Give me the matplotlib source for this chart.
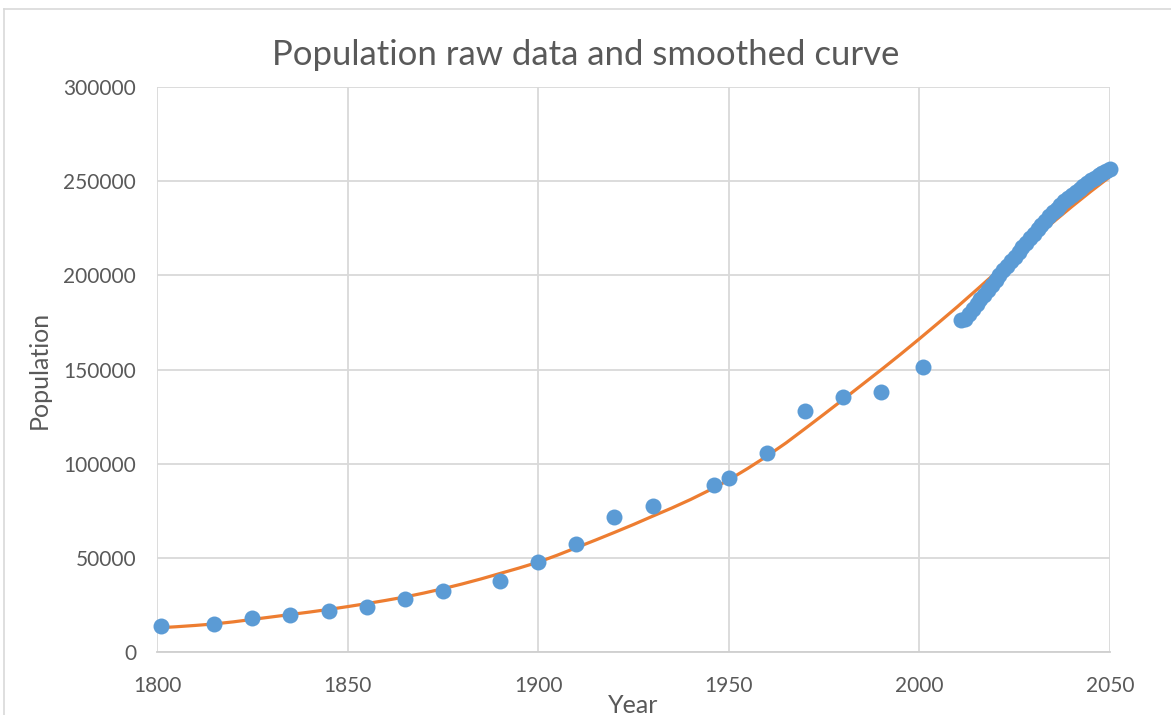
import matplotlib
matplotlib.use("Agg")
import matplotlib.pyplot as plt
from matplotlib.lines import Line2D

plt.rcParams['font.family'] = ['Lato', 'DejaVu Sans']

# raw population data (blue dots)
raw_years = [1801, 1815, 1825, 1835, 1845, 1855, 1865, 1875, 1890, 1900,
             1910, 1920, 1930, 1946, 1950, 1960, 1970, 1980, 1990, 2001]
raw_pop = [14000, 14900, 17800, 19600, 21900, 23900, 28100, 32200, 37700, 47600,
           57400, 71900, 77700, 88700, 92400, 105500, 127800, 135300, 138100, 151500]

# projected yearly values 2011-2050 (dense blue band)
proj_years = list(range(2011, 2051))
proj_pop = [176300, 176700, 179400, 182000, 184600, 187200, 189800, 192400, 195000, 197600,
            200100, 202600, 205100, 207500, 210000, 212400, 214900, 217300, 219800, 222200,
            224600, 226900, 229100, 231300, 233400, 235400, 237400, 239300, 241100, 242800,
            244500, 246100, 247600, 249100, 250500, 251800, 253100, 254300, 255400, 256600]

# smoothed curve (orange), read every 5 years
curve_years = list(range(1800, 2051, 5))
curve_pop = [12800, 13400, 14100, 14900, 16000, 17300, 18600, 19900, 21200, 22600,
             24100, 25700, 27400, 29200, 31300, 33600, 36100, 38800, 41700, 44600,
             47700, 51400, 55400, 59400, 63500, 67700, 72100, 76400, 81000, 86000,
             91400, 97500, 104000, 111000, 118600, 126300, 134100, 142000, 149900, 158000,
             166300, 174800, 183400, 192300, 201300, 210500, 219500, 228100, 236500, 244600,
             252400]

x_ticks = [1800, 1850, 1900, 1950, 2000, 2050]
y_ticks = [0, 50000, 100000, 150000, 200000, 250000, 300000]
y_tick_labels = ['0', '50000', '100000', '150000', '200000', '250000', '300000']

txt = '#595959'
fig = plt.figure(figsize=(11.71, 7.15), dpi=100)
ax = fig.add_axes([157/1171, 1-652/715, (1110-157)/1171, (652-87)/715])

ax.plot(curve_years, curve_pop, color='#ED7D31', lw=2.3, zorder=2)
ax.plot(raw_years + proj_years, raw_pop + proj_pop, 'o', color='#5B9BD5',
        markersize=11.5, markeredgewidth=0, zorder=3, clip_on=False)

ax.set_xlim(1800, 2050)
ax.set_ylim(0, 300000)
ax.set_xticks(x_ticks)
ax.set_xticklabels([str(v) for v in x_ticks])
ax.set_yticks(y_ticks)
ax.set_yticklabels(y_tick_labels)
ax.grid(True, color='#D9D9D9', lw=1.3, zorder=0)
ax.set_axisbelow(True)
for s in ['left', 'right', 'top']:
    ax.spines[s].set_visible(False)
ax.spines['bottom'].set_color('#CFCFCF')
ax.spines['bottom'].set_linewidth(1.3)
ax.tick_params(length=0, labelsize=15, labelcolor=txt)
ax.tick_params(axis='y', pad=15)
ax.tick_params(axis='x', pad=17)

ax.set_xlabel('Year', fontsize=18, color=txt, labelpad=-1)
ax.set_ylabel('Population', fontsize=18, color=txt, labelpad=9)
fig.text(0.5, 1-55/715, 'Population raw data and smoothed curve', ha='center', va='center',
         fontsize=25, color=txt)

# chart area border (left and top edges visible)
fig.add_artist(Line2D([4/1171, 4/1171], [0, 1-9/715], color='#D9D9D9', lw=1.2))
fig.add_artist(Line2D([4/1171, 1], [1-9/715, 1-9/715], color='#D9D9D9', lw=1.2))

fig.savefig('out.png', dpi=100)
